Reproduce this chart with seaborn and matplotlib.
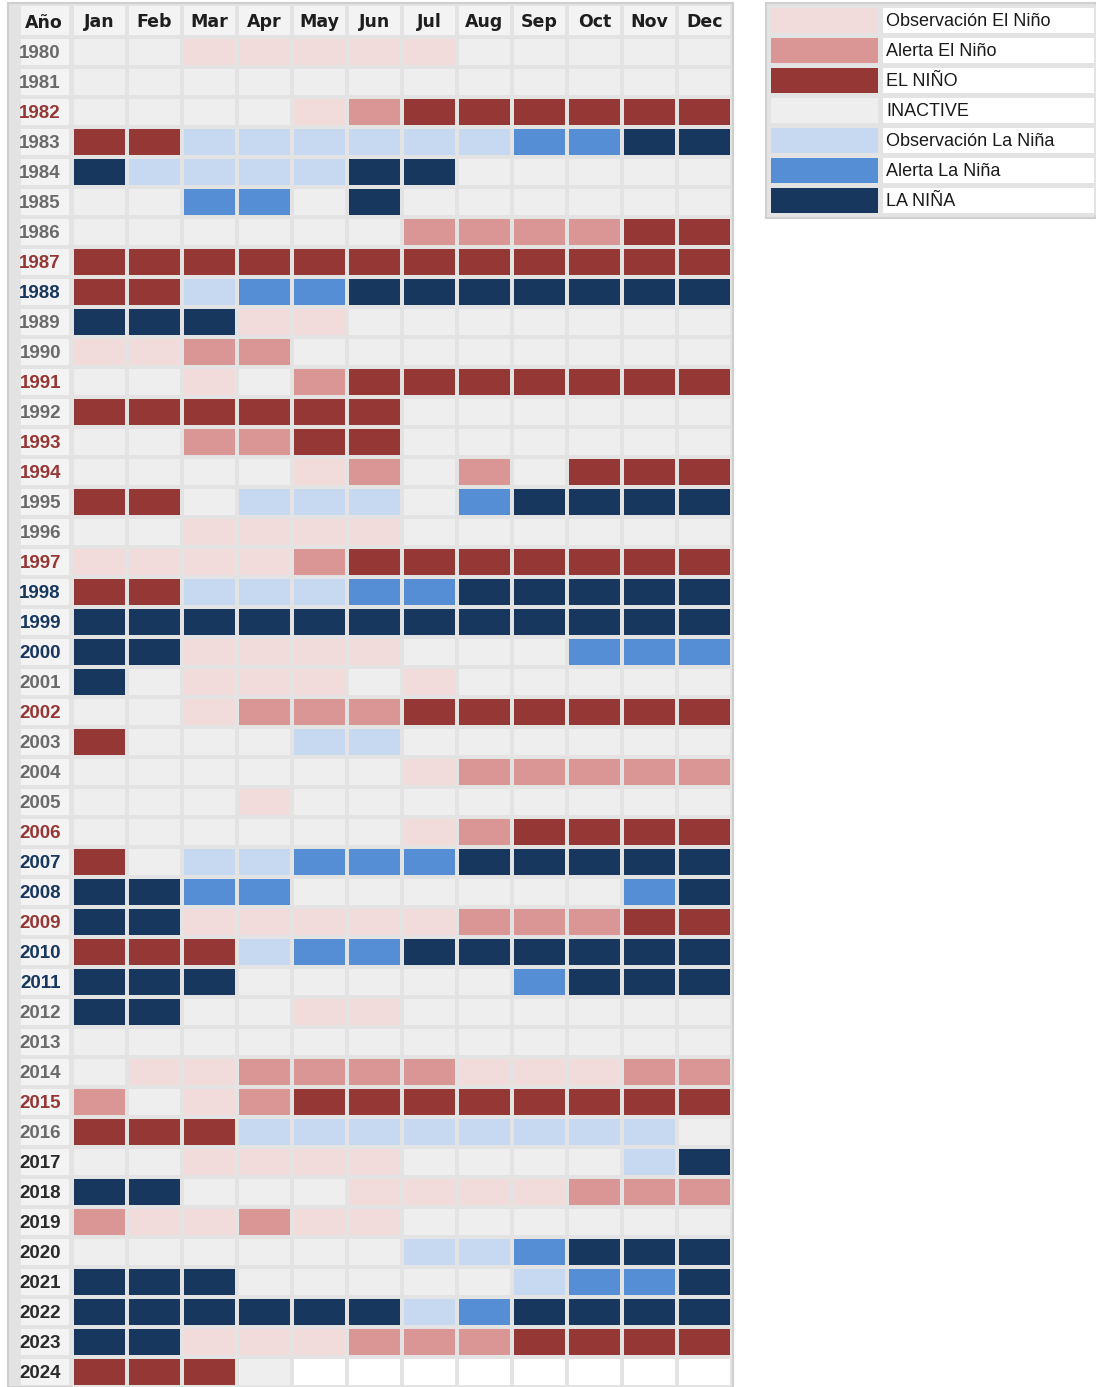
import numpy as np
import pandas as pd
import seaborn as sns
import matplotlib.pyplot as plt
from matplotlib.colors import ListedColormap
from matplotlib.patches import Rectangle

W, H = 1096, 1387

months = ["Jan", "Feb", "Mar", "Apr", "May", "Jun", "Jul", "Aug", "Sep", "Oct", "Nov", "Dec"]
years = list(range(1980, 2025))

# legend states (top to bottom) and their colours
states = ["Observación El Niño", "Alerta El Niño", "EL NIÑO", "INACTIVE",
          "Observación La Niña", "Alerta La Niña", "LA NIÑA"]
state_colors = ["#f2dcdb", "#d99694", "#953735", "#eeeeee",
                "#c6d9f1", "#558ed5", "#17375e"]

# o = obs el nino, a = alerta el nino, N = el nino, I = inactive,
# b = obs la nina, c = alerta la nina, L = la nina, - = no data yet
phases = [
    "I I o o o o o I I I I I",  # 1980
    "I I I I I I I I I I I I",  # 1981
    "I I I I o a N N N N N N",  # 1982
    "N N b b b b b b c c L L",  # 1983
    "L b b b b L L I I I I I",  # 1984
    "I I c c I L I I I I I I",  # 1985
    "I I I I I I a a a a N N",  # 1986
    "N N N N N N N N N N N N",  # 1987
    "N N b c c L L L L L L L",  # 1988
    "L L L o o I I I I I I I",  # 1989
    "o o a a I I I I I I I I",  # 1990
    "I I o I a N N N N N N N",  # 1991
    "N N N N N N I I I I I I",  # 1992
    "I I a a N N I I I I I I",  # 1993
    "I I I I o a I a I N N N",  # 1994
    "N N I b b b I c L L L L",  # 1995
    "I I o o o o I I I I I I",  # 1996
    "o o o o a N N N N N N N",  # 1997
    "N N b b b c c L L L L L",  # 1998
    "L L L L L L L L L L L L",  # 1999
    "L L o o o o I I I c c c",  # 2000
    "L I o o o I o I I I I I",  # 2001
    "I I o a a a N N N N N N",  # 2002
    "N I I I b b I I I I I I",  # 2003
    "I I I I I I o a a a a a",  # 2004
    "I I I o I I I I I I I I",  # 2005
    "I I I I I I o a N N N N",  # 2006
    "N I b b c c c L L L L L",  # 2007
    "L L c c I I I I I I c L",  # 2008
    "L L o o o o o a a a N N",  # 2009
    "N N N b c c L L L L L L",  # 2010
    "L L L I I I I I c L L L",  # 2011
    "L L I I o o I I I I I I",  # 2012
    "I I I I I I I I I I I I",  # 2013
    "I o o a a a a o o o a a",  # 2014
    "a I o a N N N N N N N N",  # 2015
    "N N N b b b b b b b b I",  # 2016
    "I I o o o o I I I I b L",  # 2017
    "L L I I I o o o o a a a",  # 2018
    "a o o a o o I I I I I I",  # 2019
    "I I I I I I b b c L L L",  # 2020
    "L L L I I I I I b c c L",  # 2021
    "L L L L L L b c L L L L",  # 2022
    "L L o o o a a a N N N N",  # 2023
    "N N N I - - - - - - - -",  # 2024
]

nino_years = [1982, 1987, 1991, 1993, 1994, 1997, 2002, 2006, 2009, 2015]
nina_years = [1988, 1998, 1999, 2000, 2007, 2008, 2010, 2011]

code_index = {"o": 0, "a": 1, "N": 2, "I": 3, "b": 4, "c": 5, "L": 6, "-": 7}
grid = np.array([[code_index[c] for c in row.split()] for row in phases])
df = pd.DataFrame(grid, index=years, columns=months)

cmap = ListedColormap(state_colors + ["#ffffff"])
line_col = "#e3e3e3"


def px(x0, y0, x1, y1):
    return [x0 / W, 1 - y1 / H, (x1 - x0) / W, (y1 - y0) / H]


fig = plt.figure(figsize=(W / 100, H / 100), dpi=100)
fig.patches.append(Rectangle((8 / W, 0), (733 - 8) / W, (H - 3) / H,
                             transform=fig.transFigure, facecolor=line_col,
                             edgecolor="#cfcfcf", linewidth=1.5, zorder=-5))

ax = fig.add_axes(px(72, 37, 732, 1387))
ax.set_facecolor("none")
sns.heatmap(df, ax=ax, cmap=cmap, vmin=-0.5, vmax=7.5, cbar=False,
            linewidths=2.6, linecolor=line_col)

# header row
ax.xaxis.tick_top()
ax.set_xticks(np.arange(12) + 0.5)
ax.set_xticklabels(months, fontsize=12.5, fontweight="bold",
                   family="DejaVu Sans", color="#1e1e1e")
ax.tick_params(axis="x", length=0, pad=4.5)
for i in range(12):
    ax.add_patch(Rectangle((i + 0.04, -1.03), 0.92, 0.95, facecolor="#f3f3f3",
                           edgecolor="none", clip_on=False, zorder=-1))
ax.add_patch(Rectangle((-0.93, -1.03), 0.88, 0.95, facecolor="#f3f3f3",
                       edgecolor="none", clip_on=False, zorder=-1))
ax.text(-0.52, -0.47, "Año", ha="center", va="center", fontsize=12.5,
        fontweight="bold", family="DejaVu Sans", color="#1e1e1e")

# year column
ax.set_yticks(np.arange(len(years)) + 0.5)
ax.set_yticklabels([str(y) for y in years], rotation=0, fontsize=13.5,
                   fontweight="bold", family="Liberation Sans", va="center_baseline")
ax.tick_params(axis="y", length=0, pad=8)
for lab, y in zip(ax.get_yticklabels(), years):
    if y in nino_years:
        lab.set_color("#953735")
    elif y in nina_years:
        lab.set_color("#17375e")
    elif y >= 2017:
        lab.set_color("#2a2a2a")
    else:
        lab.set_color("#6a6a6a")
for i in range(len(years)):
    ax.add_patch(Rectangle((-0.93, i + 0.06), 0.88, 0.88, facecolor="#f3f3f3",
                           edgecolor="none", clip_on=False, zorder=-1))
ax.set_xlabel("")
ax.set_ylabel("")

# legend
fig.patches.append(Rectangle((766 / W, 1 - 218 / H), (W - 766) / W, 215 / H,
                             transform=fig.transFigure, facecolor=line_col,
                             edgecolor="#cfcfcf", linewidth=1.5, zorder=-5))
lax = fig.add_axes(px(768, 5, 880, 215))
sns.heatmap(pd.DataFrame({"c": np.arange(7)}, index=states), ax=lax, cmap=cmap,
            vmin=-0.5, vmax=7.5, cbar=False, linewidths=2.2, linecolor=line_col,
            xticklabels=False, yticklabels=False)
tax = fig.add_axes(px(880, 5, W, 215))
sns.heatmap(pd.DataFrame({"c": [7] * 7}, index=states), ax=tax, cmap=cmap,
            vmin=-0.5, vmax=7.5, cbar=False, linewidths=2.2, linecolor=line_col,
            xticklabels=False, yticklabels=False)
for i, s in enumerate(states):
    tax.text(0.03, i + 0.56, s, ha="left", va="center", fontsize=13,
             family="Liberation Sans", color="#1a1a1a")
lax.set_ylabel("")
tax.set_ylabel("")

fig.savefig("out.png", dpi=100)
